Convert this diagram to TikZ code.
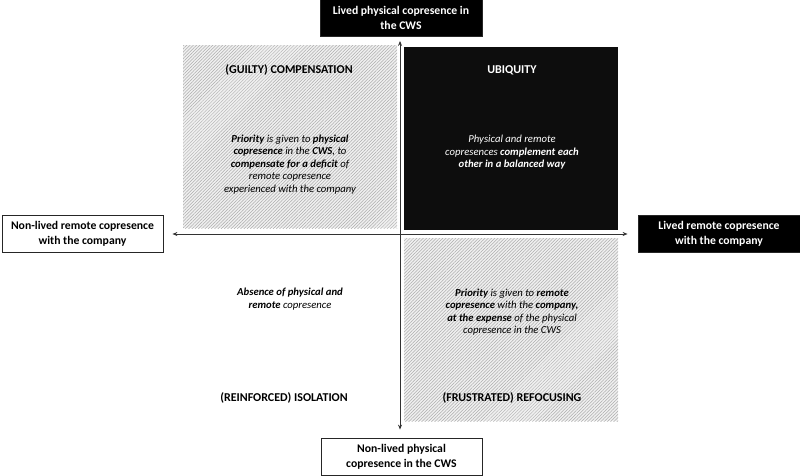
\documentclass[tikz,border=0pt]{standalone}
\usepackage{fontspec}
\setmainfont{Carlito}
\usetikzlibrary{patterns.meta,arrows.meta}
\tikzset{
  axislabel/.style={draw=black!85, line width=0.8pt, align=center, font=\bfseries\fontsize{11.7}{15}\selectfont, inner sep=0pt, minimum height=37pt},
  darklabel/.style={axislabel, fill=black, text=white},
  hatchbox/.style={rectangle, inner sep=0pt, minimum width=214pt, minimum height=183pt, fill=gray!12, postaction={pattern={Lines[angle=45,distance=2.3pt,line width=0.5pt]}, pattern color=gray!65}, anchor=north west},
  blackbox/.style={rectangle, inner sep=0pt, minimum width=214pt, minimum height=183pt, fill=black!95, anchor=north west},
  qtitle/.style={font=\bfseries\fontsize{12}{14}\selectfont, align=center},
  qdesc/.style={font=\itshape\fontsize{10.7}{12.5}\selectfont, align=center},
  axisarrow/.style={draw=black!80, line width=1pt, -{Stealth[length=5pt,width=4pt]}}
}
\begin{document}
\begin{tikzpicture}[x=1pt,y=-1pt]
\useasboundingbox (0,0) rectangle (800,476);
% quadrants
\node[hatchbox] (tl) at (183,45) {};
\node[blackbox] (tr) at (404,47) {};
\node[hatchbox] (br) at (404,238) {};
% axis labels
\node[darklabel, minimum width=162pt] (top) at (401,18) {Lived physical copresence in\\the CWS};
\node[axislabel, fill=white, minimum width=161pt] (bot) at (401.5,456.5) {Non-lived physical\\copresence in the CWS};
\node[axislabel, fill=white, minimum width=161pt] (left) at (82.5,233.5) {Non-lived remote copresence\\with the company};
\node[darklabel, minimum width=162pt] (right) at (719,233.5) {Lived remote copresence\\with the company};
% axes
\coordinate (O) at (400,234);
\draw[axisarrow, shorten >=4pt] (O) -- (O |- top.south);
\draw[axisarrow, shorten >=8pt] (O) -- (O |- bot.north);
\draw[axisarrow, shorten >=9pt] (O) -- (O -| left.east);
\draw[axisarrow, shorten >=10pt] (O) -- (O -| right.west);
% quadrant texts
\node[qtitle] (tlt) at (289,70) {(GUILTY) COMPENSATION};
\node[qdesc] (tld) at (290,164.5) {\textbf{Priority} is given to \textbf{physical}\\\textbf{copresence} in the \textbf{CWS}, to\\\textbf{compensate for a deficit} of\\remote copresence\\experienced with the company};
\node[qtitle, text=white] (trt) at (512,70) {UBIQUITY};
\node[qdesc, text=white] (trd) at (512,152.5) {Physical and remote\\copresences \textbf{complement each}\\\textbf{other in a balanced way}};
\node[qdesc] (brd) at (512,312) {\textbf{Priority} is given to \textbf{remote}\\\textbf{copresence} with the \textbf{company,}\\\textbf{at the expense} of the physical\\copresence in the CWS};
\node[qtitle] (brt) at (512,398) {(FRUSTRATED) REFOCUSING};
\node[qdesc] (bld) at (290,299) {\textbf{Absence of physical and}\\\textbf{remote} copresence};
\node[qtitle] (blt) at (284,398) {(REINFORCED) ISOLATION};
\end{tikzpicture}
\end{document}
